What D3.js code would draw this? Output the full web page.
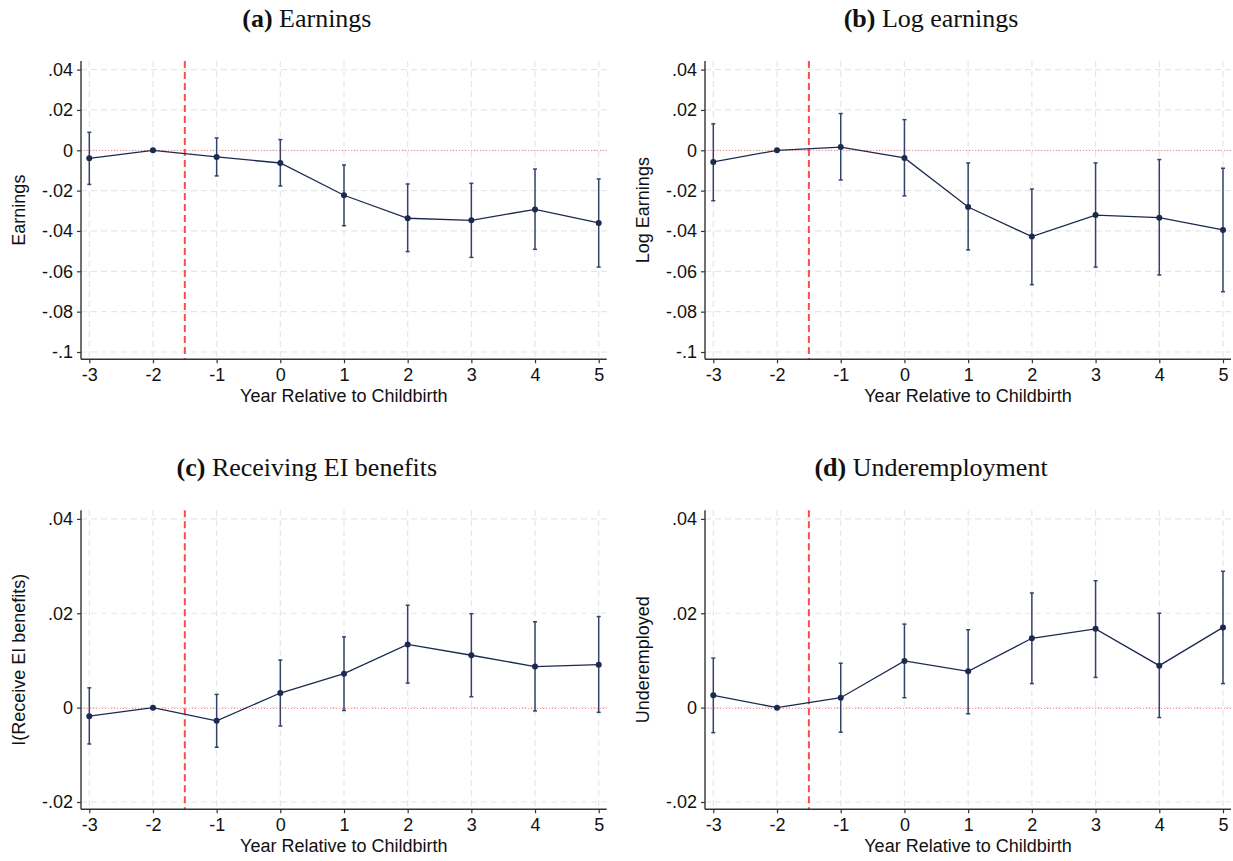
<!DOCTYPE html>
<html>
<head>
<meta charset="utf-8">
<script src="https://cdn.jsdelivr.net/npm/d3@7"></script>
<style>
  html, body { margin: 0; padding: 0; background: #fff; }
  svg { display: block; }
  .tick-label { font-family: "Liberation Sans", Arial, sans-serif; font-size: 18px; fill: #111; }
  .axis-title { font-family: "Liberation Sans", Arial, sans-serif; font-size: 18px; fill: #111; }
  .panel-title { font-family: "Liberation Serif", "Times New Roman", serif; font-size: 26px; fill: #111; }
</style>
</head>
<body>
<svg id="chart" width="1233" height="861"></svg>
<script>
// ---------------- DATA ----------------
const years = [-3, -2, -1, 0, 1, 2, 3, 4, 5];
const xTicks = [-3, -2, -1, 0, 1, 2, 3, 4, 5];
const xTickLabels = ["-3", "-2", "-1", "0", "1", "2", "3", "4", "5"];
const eventLine = -1.5;

// (a) Earnings
const earnEst = [-0.0040, 0, -0.0033, -0.0063, -0.0223, -0.0337, -0.0347, -0.0293, -0.0360];
const earnLo  = [-0.0169, null, -0.0127, -0.0177, -0.0374, -0.0502, -0.0531, -0.0491, -0.0579];
const earnHi  = [0.0089, null, 0.0061, 0.0053, -0.0073, -0.0167, -0.0164, -0.0093, -0.0142];

// (b) Log earnings
const logEst = [-0.0058, 0, 0.0016, -0.0038, -0.0281, -0.0428, -0.0321, -0.0334, -0.0395];
const logLo  = [-0.0250, null, -0.0147, -0.0226, -0.0494, -0.0666, -0.0579, -0.0618, -0.0701];
const logHi  = [0.0131, null, 0.0182, 0.0152, -0.0063, -0.0192, -0.0063, -0.0046, -0.0089];

// (c) Receiving EI benefits
const eiEst = [-0.0018, 0, -0.0028, 0.0031, 0.0072, 0.0134, 0.0111, 0.0087, 0.0091];
const eiLo  = [-0.0077, null, -0.0084, -0.0039, -0.0006, 0.0052, 0.0023, -0.0007, -0.0010];
const eiHi  = [0.0042, null, 0.0028, 0.0101, 0.0150, 0.0217, 0.0199, 0.0182, 0.0193];

// (d) Underemployment
const underEst = [0.0026, 0, 0.0021, 0.0099, 0.0077, 0.0147, 0.0167, 0.0089, 0.0170];
const underLo  = [-0.0053, null, -0.0052, 0.0021, -0.0013, 0.0051, 0.0064, -0.0021, 0.0051];
const underHi  = [0.0105, null, 0.0094, 0.0177, 0.0165, 0.0243, 0.0269, 0.0200, 0.0289];

const earnTicks = [0.04, 0.02, 0, -0.02, -0.04, -0.06, -0.08, -0.1];
const earnTickLabels = [".04", ".02", "0", "-.02", "-.04", "-.06", "-.08", "-.1"];
const smallTicks = [0.04, 0.02, 0, -0.02];
const smallTickLabels = [".04", ".02", "0", "-.02"];

const panelLetters = ["(a)", "(b)", "(c)", "(d)"];
const panelTitles = ["Earnings", "Log earnings", "Receiving EI benefits", "Underemployment"];
const yTitles = ["Earnings", "Log Earnings", "I(Receive EI benefits)", "Underemployed"];
const xTitle = "Year Relative to Childbirth";

// ---------------- LAYOUT ----------------
const panels = [
  { est: earnEst, lo: earnLo, hi: earnHi, ticks: earnTicks, labels: earnTickLabels, L: 81, R: 606.7, T: 61, B: 359.3 },
  { est: logEst, lo: logLo, hi: logHi, ticks: earnTicks, labels: earnTickLabels, L: 705, R: 1231, T: 61, B: 359.3 },
  { est: eiEst, lo: eiLo, hi: eiHi, ticks: smallTicks, labels: smallTickLabels, L: 81, R: 606.7, T: 510.3, B: 809.3 },
  { est: underEst, lo: underLo, hi: underHi, ticks: smallTicks, labels: smallTickLabels, L: 705, R: 1231, T: 510.3, B: 809.3 }
];

const navy = "#1b2a4e";
const ciColor = "#34436a";
const gridColor = "#e6e6e6";
const axisColor = "#333";

const svg = d3.select("#chart");

panels.forEach((p, i) => {
  const g = svg.append("g");
  const x = d3.scaleLinear().domain([-3, 5]).range([p.L + 8.3, p.R - 8]);
  const yMin = d3.min(p.ticks), yMax = d3.max(p.ticks);
  const y = d3.scaleLinear().domain([yMin, yMax]).range([p.B - 7.3, p.T + 8.6]);

  // grid
  g.selectAll(".hgrid").data(p.ticks).enter().append("line")
    .attr("x1", p.L).attr("x2", p.R)
    .attr("y1", d => y(d)).attr("y2", d => y(d))
    .attr("stroke", gridColor).attr("stroke-width", 1.2).attr("stroke-dasharray", "6,4");
  g.selectAll(".vgrid").data(xTicks).enter().append("line")
    .attr("x1", d => x(d)).attr("x2", d => x(d))
    .attr("y1", p.T).attr("y2", p.B)
    .attr("stroke", gridColor).attr("stroke-width", 1.2).attr("stroke-dasharray", "6,4");

  // zero reference line
  g.append("line")
    .attr("x1", p.L).attr("x2", p.R)
    .attr("y1", Math.round(y(0)) + 0.5).attr("y2", Math.round(y(0)) + 0.5)
    .attr("stroke", "#f58f8f").attr("stroke-width", 1).attr("stroke-dasharray", "1,2");

  // event line
  g.append("line")
    .attr("x1", x(eventLine)).attr("x2", x(eventLine))
    .attr("y1", p.T).attr("y2", p.B)
    .attr("stroke", "#ff4a4a").attr("stroke-width", 2).attr("stroke-dasharray", "7,4");

  // axes
  const yAxis = d3.axisLeft(y).tickValues(p.ticks).tickFormat((d, k) => p.labels[k]).tickSize(4).tickPadding(4);
  const ya = g.append("g").attr("transform", `translate(${p.L},0)`).call(yAxis);
  ya.select(".domain").remove();
  ya.append("line").attr("x1", 0).attr("x2", 0).attr("y1", p.T).attr("y2", p.B)
    .attr("stroke", axisColor).attr("stroke-width", 1.4);
  ya.selectAll(".tick line").attr("stroke", axisColor).attr("stroke-width", 1.2);
  ya.selectAll(".tick text").attr("class", "tick-label").attr("fill", "#111").style("font-size", "18px")
    .style("font-family", "'Liberation Sans', Arial, sans-serif");

  const xAxis = d3.axisBottom(x).tickValues(xTicks).tickFormat((d, k) => xTickLabels[k]).tickSize(4).tickPadding(5);
  const xa = g.append("g").attr("transform", `translate(0,${p.B})`).call(xAxis);
  xa.select(".domain").remove();
  xa.append("line").attr("x1", p.L).attr("x2", p.R).attr("y1", 0).attr("y2", 0)
    .attr("stroke", axisColor).attr("stroke-width", 1.4);
  xa.selectAll(".tick line").attr("stroke", axisColor).attr("stroke-width", 1.2);
  xa.selectAll(".tick text").attr("class", "tick-label").attr("fill", "#111").style("font-size", "18px")
    .style("font-family", "'Liberation Sans', Arial, sans-serif");

  // confidence intervals
  const ci = years.map((yr, k) => ({ yr, lo: p.lo[k], hi: p.hi[k] })).filter(d => d.lo !== null);
  g.selectAll(".ci").data(ci).enter().append("line")
    .attr("x1", d => x(d.yr)).attr("x2", d => x(d.yr))
    .attr("y1", d => y(d.lo)).attr("y2", d => y(d.hi))
    .attr("stroke", ciColor).attr("stroke-width", 1.5);
  ["lo", "hi"].forEach(key => {
    g.selectAll(".cap-" + key).data(ci).enter().append("line")
      .attr("x1", d => x(d.yr) - 2).attr("x2", d => x(d.yr) + 2)
      .attr("y1", d => y(d[key])).attr("y2", d => y(d[key]))
      .attr("stroke", ciColor).attr("stroke-width", 1.5);
  });

  // connecting line
  const pts = years.map((yr, k) => ({ yr, v: p.est[k] }));
  g.append("path").datum(pts)
    .attr("d", d3.line().x(d => x(d.yr)).y(d => y(d.v)))
    .attr("fill", "none").attr("stroke", navy).attr("stroke-width", 1.3);
  g.selectAll(".pt").data(pts).enter().append("circle")
    .attr("cx", d => x(d.yr)).attr("cy", d => y(d.v)).attr("r", 3)
    .attr("fill", navy);

  // axis titles
  g.append("text").attr("class", "axis-title")
    .attr("x", (p.L + p.R) / 2).attr("y", p.B + 43)
    .attr("text-anchor", "middle").text(xTitle);
  g.append("text").attr("class", "axis-title")
    .attr("transform", `translate(${p.L - 56},${(p.T + p.B) / 2}) rotate(-90)`)
    .attr("text-anchor", "middle").text(yTitles[i]);

  // panel title
  const t = g.append("text").attr("class", "panel-title")
    .attr("x", (p.L + p.R) / 2 - 37).attr("y", p.T - 34)
    .attr("text-anchor", "middle");
  t.append("tspan").attr("font-weight", "bold").text(panelLetters[i]);
  t.append("tspan").text(" " + panelTitles[i]);
});
</script>
</body>
</html>
